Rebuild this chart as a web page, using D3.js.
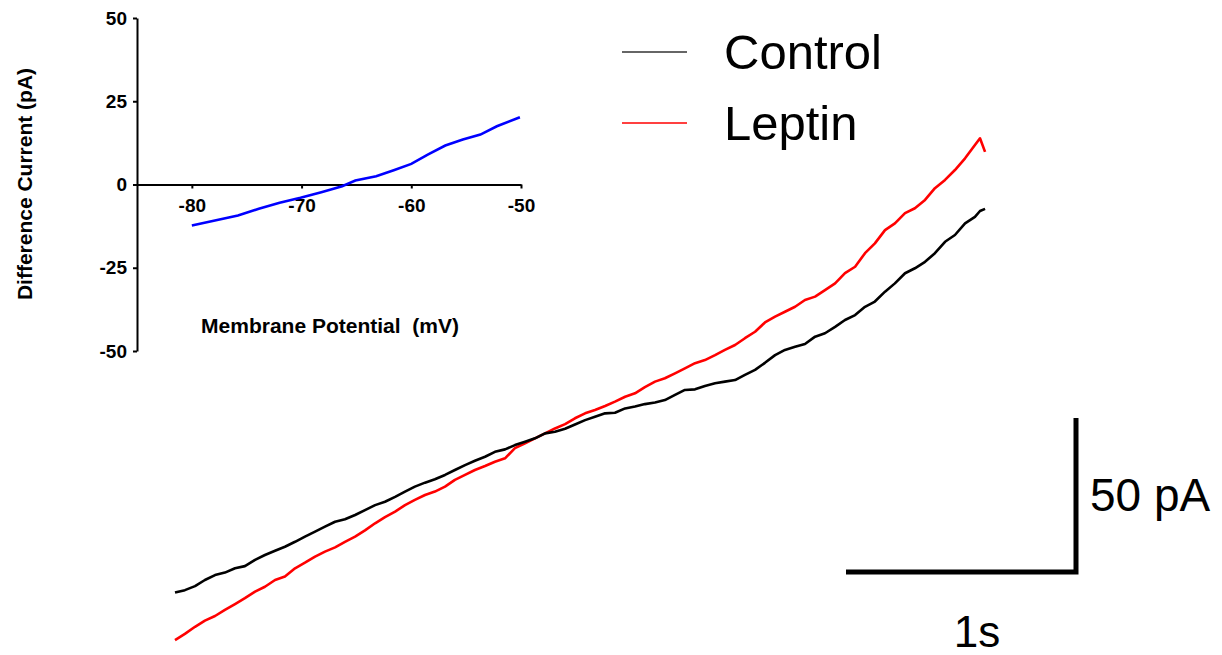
<!DOCTYPE html>
<html>
<head>
<meta charset="utf-8">
<script src="https://cdn.jsdelivr.net/npm/d3@7"></script>
<style>
  body { margin: 0; background: #fff; }
  svg { display: block; font-family: Arial, "Liberation Sans", sans-serif; }
  .iv-axis path, .iv-axis line { stroke: #000; stroke-width: 2; }
  .iv-axis text { font-size: 19px; font-weight: bold; fill: #000; font-family: Arial, "Liberation Sans", sans-serif; }
  .iv-title { font-size: 21px; font-weight: bold; white-space: pre; }
</style>
</head>
<body>
<svg id="chart" width="1222" height="655"></svg>
<script>
// Ramp traces: time (ms) and current (pA, relative baseline)
const timeMs = [0, 43, 87, 130, 174, 217, 261, 304, 348, 391,
  435, 478, 522, 565, 609, 652, 696, 739, 783, 826,
  870, 913, 957, 1000, 1043, 1087, 1130, 1174, 1217, 1261,
  1304, 1348, 1391, 1435, 1478, 1522, 1565, 1609, 1652, 1696,
  1739, 1783, 1826, 1870, 1913, 1957, 2000, 2043, 2087, 2130,
  2174, 2217, 2261, 2304, 2348, 2391, 2435, 2478, 2522, 2565,
  2609, 2652, 2696, 2739, 2783, 2826, 2870, 2913, 2957, 3000,
  3043, 3087, 3130, 3174, 3217, 3261, 3304, 3348, 3391, 3435,
  3478, 3500, 3522];

const controlCurrent = [2.4, 3.2, 4.5, 6.5, 8.1, 8.9, 10.3, 11.0, 13.0, 14.6,
  16.0, 17.3, 18.9, 20.6, 22.2, 23.8, 25.4, 26.2, 27.6, 29.2,
  30.8, 31.9, 33.5, 35.2, 36.8, 38.1, 39.2, 40.6, 42.2, 43.8,
  45.2, 46.5, 48.1, 48.9, 50.3, 51.4, 52.5, 54.1, 54.6, 55.6,
  57.0, 58.4, 59.5, 60.6, 60.8, 62.2, 62.8, 63.6, 64.1, 64.9,
  66.6, 68.2, 68.4, 69.5, 70.4, 70.9, 71.4, 73.1, 74.7, 77.0,
  79.5, 81.2, 82.2, 83.1, 85.5, 86.6, 88.7, 90.9, 92.5, 95.2,
  96.9, 100.1, 102.8, 106.1, 107.7, 109.8, 112.6, 116.3, 118.5, 122.3,
  124.4, 126.3, 127.0];

const leptinCurrent = [-13.0, -11.0, -8.7, -6.7, -5.2, -3.2, -1.3, 0.6, 2.7, 4.3,
  6.5, 7.6, 10.3, 12.1, 14.1, 15.7, 17.1, 18.9, 20.6, 22.6,
  24.9, 26.9, 28.7, 30.8, 32.5, 34.1, 35.2, 36.8, 39.0, 40.6,
  42.2, 43.5, 44.9, 46.0, 49.3, 50.9, 52.5, 54.1, 55.7, 57.1,
  59.0, 60.6, 61.7, 63.0, 64.4, 66.0, 67.1, 69.1, 70.9, 72.0,
  73.6, 75.2, 76.9, 77.9, 79.5, 81.2, 82.8, 85.0, 87.1, 90.1,
  92.0, 93.6, 95.2, 97.4, 98.5, 100.6, 102.8, 106.1, 108.2, 112.6,
  115.8, 120.1, 122.3, 125.6, 127.2, 129.9, 133.7, 136.4, 139.6, 143.4,
  147.7, 149.9, 145.5];

// Inset: difference current vs membrane potential
const ivVoltage = [-80, -75.8, -73.9, -72.0, -70.1, -68.2, -66.3, -65.1, -63.2,
  -61.6, -60.0, -58.5, -56.9, -55.3, -53.7, -52.2, -50.1];
const ivCurrent = [-12.3, -9.3, -7.3, -5.5, -4.0, -2.3, -0.5, 1.2, 2.5,
  4.3, 6.2, 9.0, 11.7, 13.5, 15.0, 17.5, 20.2];
const ivXTicks = [-80, -70, -60, -50];
const ivYTicks = [-50, -25, 0, 25, 50];

const legendLabels = ['Control', 'Leptin'];
const legendColors = ['#333333', '#ff0000'];

const svg = d3.select('#chart');

// Scales for the traces (1 s = 230 px, 50 pA = 154 px)
const xTrace = d3.scaleLinear().domain([0, 1000]).range([175, 405]);
const yTrace = d3.scaleLinear().domain([0, 50]).range([600, 446]);

const traceLine = (values) => d3.line()
  .x((d, i) => xTrace(timeMs[i]))
  .y((d) => yTrace(d))(values);

// Red first so black sits on top where they cross
svg.append('path')
  .attr('d', traceLine(leptinCurrent))
  .attr('fill', 'none')
  .attr('stroke', '#ff0000')
  .attr('stroke-width', 2.6)
  .attr('stroke-linejoin', 'round');

svg.append('path')
  .attr('d', traceLine(controlCurrent))
  .attr('fill', 'none')
  .attr('stroke', '#000')
  .attr('stroke-width', 2.6)
  .attr('stroke-linejoin', 'round');

// Scale bar
const barX = 1076;
const barY = 572;
const barW = xTrace(1000) - xTrace(0);
const barH = yTrace(0) - yTrace(50);
svg.append('path')
  .attr('d', `M${barX - barW},${barY} H${barX} V${barY - barH}`)
  .attr('fill', 'none')
  .attr('stroke', '#000')
  .attr('stroke-width', 5);

svg.append('text')
  .attr('x', barX + 14)
  .attr('y', 511)
  .attr('font-size', 46)
  .text('50 pA');

svg.append('text')
  .attr('x', barX - barW / 2 + 16)
  .attr('y', 647)
  .attr('text-anchor', 'middle')
  .attr('font-size', 44)
  .text('1s');

// Legend
const legend = svg.append('g');
legendLabels.forEach((label, i) => {
  const y = 52 + i * 71;
  legend.append('line')
    .attr('x1', 622).attr('x2', 687)
    .attr('y1', y).attr('y2', y)
    .attr('stroke', legendColors[i])
    .attr('stroke-width', 1.6);
  legend.append('text')
    .attr('x', 724)
    .attr('y', y + 17)
    .attr('font-size', 49)
    .text(label);
});

// Inset I-V plot
const xIv = d3.scaleLinear().domain([-85, -50]).range([137, 521]);
const yIv = d3.scaleLinear().domain([-50, 50]).range([351, 18]);

svg.append('g')
  .attr('class', 'iv-axis')
  .attr('transform', 'translate(137,0)')
  .call(d3.axisLeft(yIv).tickValues(ivYTicks).tickFormat((d) => String(d))
    .tickSize(4).tickSizeOuter(0).tickPadding(6));

svg.append('g')
  .attr('class', 'iv-axis')
  .attr('transform', `translate(0,${yIv(0)})`)
  .call(d3.axisBottom(xIv).tickValues(ivXTicks).tickFormat((d) => String(d))
    .tickSize(4).tickSizeOuter(0).tickPadding(10));

svg.append('path')
  .datum(ivVoltage)
  .attr('d', d3.line().x((d) => xIv(d)).y((d, i) => yIv(ivCurrent[i])))
  .attr('fill', 'none')
  .attr('stroke', '#0000ff')
  .attr('stroke-width', 2.6);

svg.append('text')
  .attr('class', 'iv-title')
  .attr('x', 330)
  .attr('y', 333)
  .attr('text-anchor', 'middle')
  .text('Membrane Potential  (mV)');

svg.append('text')
  .attr('class', 'iv-title')
  .attr('transform', 'translate(32,184) rotate(-90)')
  .attr('text-anchor', 'middle')
  .text('Difference Current (pA)');
</script>
</body>
</html>
